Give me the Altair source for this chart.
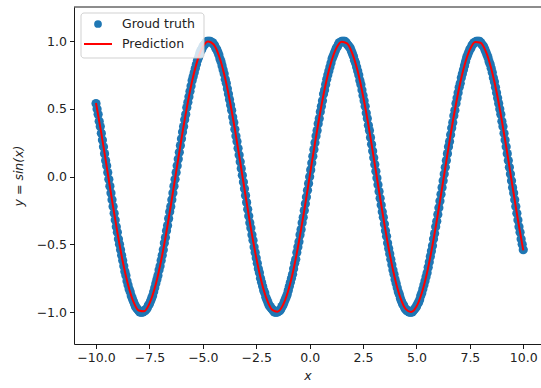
import altair as alt
import pandas as pd

TRUTH_X = [
    -10.0, -9.95, -9.9, -9.85, -9.8, -9.75, -9.7, -9.65, -9.6, -9.55, -9.5, -9.45, -9.4, -9.35, -9.3, -9.25, -9.2, -9.15, -9.1, -9.05,
    -9.0, -8.95, -8.9, -8.85, -8.8, -8.75, -8.7, -8.65, -8.6, -8.55, -8.5, -8.45, -8.4, -8.35, -8.3, -8.25, -8.2, -8.15, -8.1, -8.05,
    -8.0, -7.95, -7.9, -7.85, -7.8, -7.75, -7.7, -7.65, -7.6, -7.55, -7.5, -7.45, -7.4, -7.35, -7.3, -7.25, -7.2, -7.15, -7.1, -7.05,
    -7.0, -6.95, -6.9, -6.85, -6.8, -6.75, -6.7, -6.65, -6.6, -6.55, -6.5, -6.45, -6.4, -6.35, -6.3, -6.25, -6.2, -6.15, -6.1, -6.05,
    -6.0, -5.95, -5.9, -5.85, -5.8, -5.75, -5.7, -5.65, -5.6, -5.55, -5.5, -5.45, -5.4, -5.35, -5.3, -5.25, -5.2, -5.15, -5.1, -5.05,
    -5.0, -4.95, -4.9, -4.85, -4.8, -4.75, -4.7, -4.65, -4.6, -4.55, -4.5, -4.45, -4.4, -4.35, -4.3, -4.25, -4.2, -4.15, -4.1, -4.05,
    -4.0, -3.95, -3.9, -3.85, -3.8, -3.75, -3.7, -3.65, -3.6, -3.55, -3.5, -3.45, -3.4, -3.35, -3.3, -3.25, -3.2, -3.15, -3.1, -3.05,
    -3.0, -2.95, -2.9, -2.85, -2.8, -2.75, -2.7, -2.65, -2.6, -2.55, -2.5, -2.45, -2.4, -2.35, -2.3, -2.25, -2.2, -2.15, -2.1, -2.05,
    -2.0, -1.95, -1.9, -1.85, -1.8, -1.75, -1.7, -1.65, -1.6, -1.55, -1.5, -1.45, -1.4, -1.35, -1.3, -1.25, -1.2, -1.15, -1.1, -1.05,
    -1.0, -0.95, -0.9, -0.85, -0.8, -0.75, -0.7, -0.65, -0.6, -0.55, -0.5, -0.45, -0.4, -0.35, -0.3, -0.25, -0.2, -0.15, -0.1, -0.05,
    0.0, 0.05, 0.1, 0.15, 0.2, 0.25, 0.3, 0.35, 0.4, 0.45, 0.5, 0.55, 0.6, 0.65, 0.7, 0.75, 0.8, 0.85, 0.9, 0.95,
    1.0, 1.05, 1.1, 1.15, 1.2, 1.25, 1.3, 1.35, 1.4, 1.45, 1.5, 1.55, 1.6, 1.65, 1.7, 1.75, 1.8, 1.85, 1.9, 1.95,
    2.0, 2.05, 2.1, 2.15, 2.2, 2.25, 2.3, 2.35, 2.4, 2.45, 2.5, 2.55, 2.6, 2.65, 2.7, 2.75, 2.8, 2.85, 2.9, 2.95,
    3.0, 3.05, 3.1, 3.15, 3.2, 3.25, 3.3, 3.35, 3.4, 3.45, 3.5, 3.55, 3.6, 3.65, 3.7, 3.75, 3.8, 3.85, 3.9, 3.95,
    4.0, 4.05, 4.1, 4.15, 4.2, 4.25, 4.3, 4.35, 4.4, 4.45, 4.5, 4.55, 4.6, 4.65, 4.7, 4.75, 4.8, 4.85, 4.9, 4.95,
    5.0, 5.05, 5.1, 5.15, 5.2, 5.25, 5.3, 5.35, 5.4, 5.45, 5.5, 5.55, 5.6, 5.65, 5.7, 5.75, 5.8, 5.85, 5.9, 5.95,
    6.0, 6.05, 6.1, 6.15, 6.2, 6.25, 6.3, 6.35, 6.4, 6.45, 6.5, 6.55, 6.6, 6.65, 6.7, 6.75, 6.8, 6.85, 6.9, 6.95,
    7.0, 7.05, 7.1, 7.15, 7.2, 7.25, 7.3, 7.35, 7.4, 7.45, 7.5, 7.55, 7.6, 7.65, 7.7, 7.75, 7.8, 7.85, 7.9, 7.95,
    8.0, 8.05, 8.1, 8.15, 8.2, 8.25, 8.3, 8.35, 8.4, 8.45, 8.5, 8.55, 8.6, 8.65, 8.7, 8.75, 8.8, 8.85, 8.9, 8.95,
    9.0, 9.05, 9.1, 9.15, 9.2, 9.25, 9.3, 9.35, 9.4, 9.45, 9.5, 9.55, 9.6, 9.65, 9.7, 9.75, 9.8, 9.85, 9.9, 9.95,
    10.0,
]
TRUTH_Y = [
    0.54, 0.50, 0.46, 0.41, 0.37, 0.32, 0.27, 0.22, 0.17, 0.12, 0.08, 0.03, -0.02, -0.07, -0.12, -0.17, -0.22, -0.27, -0.32, -0.37,
    -0.41, -0.46, -0.50, -0.54, -0.58, -0.62, -0.66, -0.70, -0.73, -0.77, -0.80, -0.83, -0.85, -0.88, -0.90, -0.92, -0.94, -0.96, -0.97, -0.98,
    -0.99, -1.00, -1.00, -1.00, -1.00, -0.99, -0.99, -0.98, -0.97, -0.95, -0.94, -0.92, -0.90, -0.88, -0.85, -0.82, -0.79, -0.76, -0.73, -0.69,
    -0.66, -0.62, -0.58, -0.54, -0.49, -0.45, -0.40, -0.36, -0.31, -0.26, -0.22, -0.17, -0.12, -0.07, -0.02, 0.03, 0.08, 0.13, 0.18, 0.23,
    0.28, 0.33, 0.37, 0.42, 0.46, 0.51, 0.55, 0.59, 0.63, 0.67, 0.71, 0.74, 0.77, 0.80, 0.83, 0.86, 0.88, 0.91, 0.93, 0.94,
    0.96, 0.97, 0.98, 0.99, 1.00, 1.00, 1.00, 1.00, 0.99, 0.99, 0.98, 0.97, 0.95, 0.94, 0.92, 0.90, 0.87, 0.85, 0.82, 0.79,
    0.76, 0.72, 0.69, 0.65, 0.61, 0.57, 0.53, 0.49, 0.44, 0.40, 0.35, 0.30, 0.26, 0.21, 0.16, 0.11, 0.06, 0.01, -0.04, -0.09,
    -0.14, -0.19, -0.24, -0.29, -0.34, -0.38, -0.43, -0.47, -0.52, -0.56, -0.60, -0.64, -0.68, -0.71, -0.75, -0.78, -0.81, -0.84, -0.86, -0.89,
    -0.91, -0.93, -0.95, -0.96, -0.97, -0.98, -0.99, -1.00, -1.00, -1.00, -1.00, -0.99, -0.99, -0.98, -0.96, -0.95, -0.93, -0.91, -0.89, -0.87,
    -0.84, -0.81, -0.78, -0.75, -0.72, -0.68, -0.64, -0.61, -0.56, -0.52, -0.48, -0.43, -0.39, -0.34, -0.30, -0.25, -0.20, -0.15, -0.10, -0.05,
    0.00, 0.05, 0.10, 0.15, 0.20, 0.25, 0.30, 0.34, 0.39, 0.43, 0.48, 0.52, 0.56, 0.61, 0.64, 0.68, 0.72, 0.75, 0.78, 0.81,
    0.84, 0.87, 0.89, 0.91, 0.93, 0.95, 0.96, 0.98, 0.99, 0.99, 1.00, 1.00, 1.00, 1.00, 0.99, 0.98, 0.97, 0.96, 0.95, 0.93,
    0.91, 0.89, 0.86, 0.84, 0.81, 0.78, 0.75, 0.71, 0.68, 0.64, 0.60, 0.56, 0.52, 0.47, 0.43, 0.38, 0.34, 0.29, 0.24, 0.19,
    0.14, 0.09, 0.04, -0.01, -0.06, -0.11, -0.16, -0.21, -0.26, -0.30, -0.35, -0.40, -0.44, -0.49, -0.53, -0.57, -0.61, -0.65, -0.69, -0.72,
    -0.76, -0.79, -0.82, -0.85, -0.87, -0.90, -0.92, -0.94, -0.95, -0.97, -0.98, -0.99, -0.99, -1.00, -1.00, -1.00, -1.00, -0.99, -0.98, -0.97,
    -0.96, -0.94, -0.93, -0.91, -0.88, -0.86, -0.83, -0.80, -0.77, -0.74, -0.71, -0.67, -0.63, -0.59, -0.55, -0.51, -0.46, -0.42, -0.37, -0.33,
    -0.28, -0.23, -0.18, -0.13, -0.08, -0.03, 0.02, 0.07, 0.12, 0.17, 0.22, 0.26, 0.31, 0.36, 0.40, 0.45, 0.49, 0.54, 0.58, 0.62,
    0.66, 0.69, 0.73, 0.76, 0.79, 0.82, 0.85, 0.88, 0.90, 0.92, 0.94, 0.95, 0.97, 0.98, 0.99, 0.99, 1.00, 1.00, 1.00, 1.00,
    0.99, 0.98, 0.97, 0.96, 0.94, 0.92, 0.90, 0.88, 0.85, 0.83, 0.80, 0.77, 0.73, 0.70, 0.66, 0.62, 0.58, 0.54, 0.50, 0.46,
    0.41, 0.37, 0.32, 0.27, 0.22, 0.17, 0.12, 0.07, 0.02, -0.03, -0.08, -0.12, -0.17, -0.22, -0.27, -0.32, -0.37, -0.41, -0.46, -0.50,
    -0.54,
]

# Prediction curve (x, y)
PRED_X = [
    -10.0, -9.75, -9.5, -9.25, -9.0, -8.75, -8.5, -8.25, -8.0, -7.75, -7.5, -7.25, -7.0, -6.75, -6.5, -6.25, -6.0, -5.75, -5.5, -5.25,
    -5.0, -4.75, -4.5, -4.25, -4.0, -3.75, -3.5, -3.25, -3.0, -2.75, -2.5, -2.25, -2.0, -1.75, -1.5, -1.25, -1.0, -0.75, -0.5, -0.25,
    0.0, 0.25, 0.5, 0.75, 1.0, 1.25, 1.5, 1.75, 2.0, 2.25, 2.5, 2.75, 3.0, 3.25, 3.5, 3.75, 4.0, 4.25, 4.5, 4.75,
    5.0, 5.25, 5.5, 5.75, 6.0, 6.25, 6.5, 6.75, 7.0, 7.25, 7.5, 7.75, 8.0, 8.25, 8.5, 8.75, 9.0, 9.25, 9.5, 9.75, 10.0,
]
PRED_Y = [
    0.544, 0.320, 0.075, -0.174, -0.412, -0.625, -0.798, -0.923, -0.989, -0.995, -0.938, -0.823, -0.657, -0.450, -0.215, 0.033, 0.279, 0.508, 0.706, 0.859,
    0.959, 0.999, 0.978, 0.895, 0.757, 0.572, 0.351, 0.108, -0.141, -0.382, -0.598, -0.778, -0.909, -0.984, -0.997, -0.949, -0.841, -0.682, -0.479, -0.247,
    0.000, 0.247, 0.479, 0.682, 0.841, 0.949, 0.997, 0.984, 0.909, 0.778, 0.598, 0.382, 0.141, -0.108, -0.351, -0.572, -0.757, -0.895, -0.978, -0.999,
    -0.959, -0.859, -0.706, -0.508, -0.279, -0.033, 0.215, 0.450, 0.657, 0.823, 0.938, 0.995, 0.989, 0.923, 0.798, 0.625, 0.412, 0.174, -0.075, -0.320, -0.544,
]

X_TICKS = [-10.0, -7.5, -5.0, -2.5, 0.0, 2.5, 5.0, 7.5, 10.0]
Y_TICKS = [-1.0, -0.5, 0.0, 0.5, 1.0]
LEGEND_LABELS = ["Groud truth", "Prediction"]

FONT = "DejaVu Sans"
W, H = 467, 337

truth_df = pd.DataFrame({"x": TRUTH_X, "y": TRUTH_Y})
pred_df = pd.DataFrame({"x": PRED_X, "y": PRED_Y})
one = pd.DataFrame({"k": [0]})

xscale = alt.Scale(domain=[-11.03, 10.83], nice=False, zero=False)
yscale = alt.Scale(domain=[-1.236, 1.253], nice=False, zero=False)

xaxis = alt.Axis(
    values=X_TICKS, format=".1f", title="x", grid=False,
    tickSize=4.5, tickColor="#000", domainColor="#000", tickWidth=0.9, domainWidth=0.9,
    labelFont=FONT, labelFontSize=12.5, labelColor="#222", labelPadding=3,
    titleFont=FONT, titleFontSize=12.5, titleFontStyle="italic", titleFontWeight="normal",
    titleColor="#222", titlePadding=5,
)
yaxis = alt.Axis(
    values=Y_TICKS, format=".1f", title="y = sin(x)", grid=False,
    tickSize=4.5, tickColor="#000", domainColor="#000", tickWidth=0.9, domainWidth=0.9,
    labelFont=FONT, labelFontSize=12.5, labelColor="#222", labelPadding=3,
    titleFont=FONT, titleFontSize=12.5, titleFontStyle="italic", titleFontWeight="normal",
    titleColor="#222", titlePadding=11,
)

points = alt.Chart(truth_df).mark_circle(size=85, color="#1f77b4", opacity=1).encode(
    x=alt.X("x:Q", scale=xscale, axis=xaxis),
    y=alt.Y("y:Q", scale=yscale, axis=yaxis),
)
line = alt.Chart(pred_df).mark_line(color="#ff0000", strokeWidth=2, interpolate="monotone").encode(
    x=alt.X("x:Q", scale=xscale),
    y=alt.Y("y:Q", scale=yscale),
)
top_spine = alt.Chart(one).mark_rule(color="#000", strokeWidth=0.9).encode(
    x=alt.value(0), x2=alt.value(W), y=alt.value(0)
)
legend_box = alt.Chart(one).mark_rect(
    fill="white", fillOpacity=0.8, stroke="#cccccc", strokeWidth=0.9, cornerRadius=3
).encode(x=alt.value(7), x2=alt.value(130), y=alt.value(6), y2=alt.value(51))
legend_dot = alt.Chart(one).mark_circle(size=60, color="#1f77b4", opacity=1).encode(
    x=alt.value(24), y=alt.value(17)
)
legend_line = alt.Chart(one).mark_rule(color="#ff0000", strokeWidth=2).encode(
    x=alt.value(10), x2=alt.value(38), y=alt.value(37)
)
legend_t1 = alt.Chart(one).mark_text(
    text=LEGEND_LABELS[0], align="left", baseline="middle", font=FONT, fontSize=12.5, color="#222"
).encode(x=alt.value(48), y=alt.value(17))
legend_t2 = alt.Chart(one).mark_text(
    text=LEGEND_LABELS[1], align="left", baseline="middle", font=FONT, fontSize=12.5, color="#222"
).encode(x=alt.value(48), y=alt.value(37))

chart = alt.layer(
    points, line, top_spine, legend_box, legend_dot, legend_line, legend_t1, legend_t2
).properties(
    width=W, height=H,
    autosize=alt.AutoSizeParams(type="none"),
    padding={"left": 74, "top": 7, "right": 0, "bottom": 44},
    background="white",
).configure_view(strokeWidth=0)

chart.save("out.html", embed_options={"renderer": "svg", "actions": False})
